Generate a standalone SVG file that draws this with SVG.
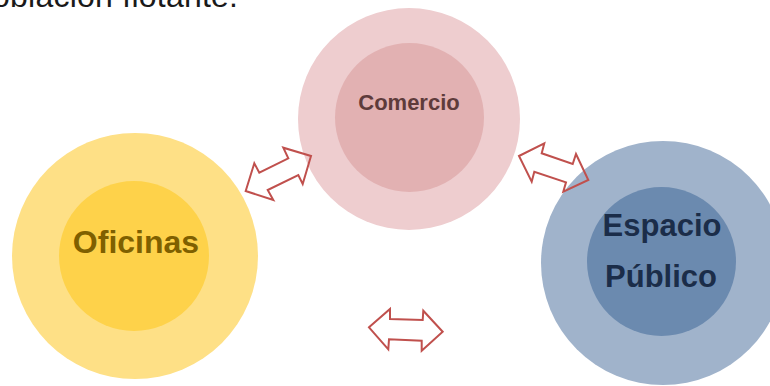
<svg xmlns="http://www.w3.org/2000/svg" width="770" height="386" viewBox="0 0 770 386">
<style>
.arrow{fill:none;stroke:#C0504D;stroke-width:2;stroke-linejoin:miter}
.lbl{font-family:"Liberation Sans",Arial,sans-serif;font-weight:bold;text-anchor:middle}
</style>
<rect width="770" height="386" fill="#ffffff"/>
<text x="-26" y="7" font-family="Liberation Sans, Arial, sans-serif" font-size="32" fill="#1a1a1a" textLength="264" lengthAdjust="spacing">población flotante.</text>
<g id="oficinas">
<circle cx="135" cy="256" r="123" fill="#FEE086"/>
<circle cx="134" cy="256" r="75" fill="#FED24A"/>
<text class="lbl" x="136" y="253" font-size="32" fill="#7F6000">Oficinas</text>
</g>
<g id="comercio">
<circle cx="409" cy="119" r="111" fill="#EECDCF"/>
<circle cx="409.5" cy="117.5" r="74.5" fill="#E2B1B2"/>
<text class="lbl" x="409" y="110" font-size="22" fill="#5E3B3B">Comercio</text>
</g>
<g id="espacio">
<circle cx="663" cy="263" r="122" fill="#A0B3CB"/>
<circle cx="661.5" cy="261.5" r="74.5" fill="#6B8AAF"/>
<text class="lbl" x="662" y="236" font-size="31" fill="#1B2D49">Espacio</text>
<text class="lbl" x="661" y="287" font-size="31" fill="#1B2D49">Público</text>
</g>
<g id="connectors">
<polygon class="arrow" points="245.7,191 254.3,163.3 259.3,172.7 288.3,158.3 283.3,147.7 311,156 302.7,184 298.3,175 267.7,190 273.3,200"/>
<polygon class="arrow" points="519,156 544.3,143.3 541.7,153.3 572.7,164 576,154 588.3,180 563.3,191.7 566,182.3 534.3,171.7 531.7,181.7"/>
<polygon class="arrow" points="369,327.3 390,309 390,319 422.7,320 423.3,310.7 442.7,331.7 421.7,350.7 421.7,340.7 389,339.3 388.3,349.3"/>
</g>
</svg>
